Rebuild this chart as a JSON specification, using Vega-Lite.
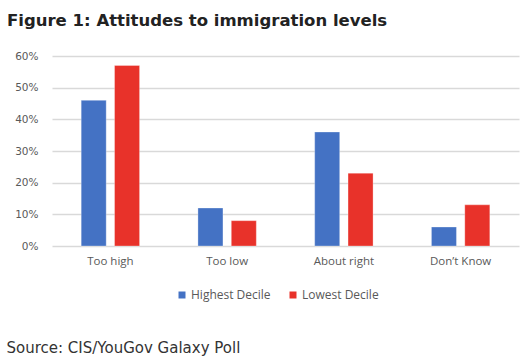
{
  "$schema": "https://vega.github.io/schema/vega-lite/v6.json",
  "width": 467,
  "height": 190,
  "autosize": {"type": "none"},
  "padding": {"left": 52, "top": 56, "right": 8, "bottom": 115},
  "background": "white",
  "title": {
    "text": "Figure 1: Attitudes to immigration levels",
    "anchor": "start",
    "frame": "group",
    "dx": -45,
    "offset": 22,
    "font": "DejaVu Sans",
    "fontSize": 16.5,
    "fontWeight": "bold",
    "color": "#222222"
  },
  "data": {
    "values": [
      {"response": "Too high", "group": "Highest Decile", "value": 46},
      {"response": "Too high", "group": "Lowest Decile", "value": 57},
      {"response": "Too low", "group": "Highest Decile", "value": 12},
      {"response": "Too low", "group": "Lowest Decile", "value": 8},
      {"response": "About right", "group": "Highest Decile", "value": 36},
      {"response": "About right", "group": "Lowest Decile", "value": 23},
      {"response": "Don’t Know", "group": "Highest Decile", "value": 6},
      {"response": "Don’t Know", "group": "Lowest Decile", "value": 13}
    ]
  },
  "mark": {"type": "bar", "stroke": "white", "strokeWidth": 0.5, "strokeOpacity": 0.6},
  "encoding": {
    "x": {
      "field": "response",
      "type": "nominal",
      "sort": ["Too high", "Too low", "About right", "Don’t Know"],
      "scale": {"paddingInner": 0.5, "paddingOuter": 0.25},
      "axis": {
        "title": "Source: CIS/YouGov Galaxy Poll",
        "titleAnchor": "start",
        "titleAlign": "left",
        "titleX": -46,
        "titleY": 94,
        "titleFont": "DejaVu Sans",
        "titleFontSize": 15,
        "titleFontWeight": "normal",
        "titleColor": "#333333",
        "labelAngle": 0,
        "labelFont": "Open Sans",
        "labelFontSize": 11.5,
        "labelColor": "#595959",
        "labelPadding": 9,
        "domain": false,
        "ticks": false
      }
    },
    "xOffset": {
      "field": "group",
      "type": "nominal",
      "scale": {"paddingInner": 0.25, "paddingOuter": 0}
    },
    "y": {
      "field": "value",
      "type": "quantitative",
      "scale": {"domain": [0, 60]},
      "axis": {
        "title": null,
        "values": [0, 10, 20, 30, 40, 50, 60],
        "labelExpr": "datum.value + '%'",
        "labelFont": "DejaVu Sans",
        "labelFontSize": 10.5,
        "labelColor": "#595959",
        "labelPadding": 14,
        "domain": false,
        "ticks": false,
        "grid": true,
        "gridColor": "#d9d9d9",
        "gridWidth": 1.5
      }
    },
    "color": {
      "field": "group",
      "type": "nominal",
      "scale": {"domain": ["Highest Decile", "Lowest Decile"], "range": ["#4472C4", "#E8322A"]},
      "legend": {
        "title": null,
        "orient": "none",
        "direction": "horizontal",
        "legendX": 124,
        "legendY": 233,
        "symbolType": "square",
        "symbolSize": 49,
        "symbolStrokeWidth": 0,
        "symbolOpacity": 1,
        "labelFont": "Open Sans",
        "labelFontSize": 12,
        "labelColor": "#595959",
        "labelOffset": 3,
        "columnPadding": 16
      }
    }
  },
  "config": {"view": {"stroke": null}}
}
